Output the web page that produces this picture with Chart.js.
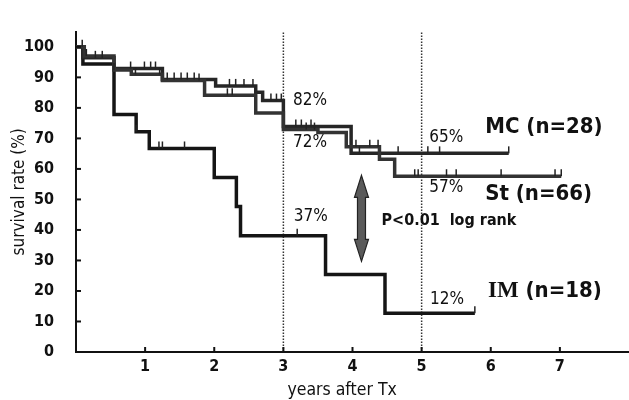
<!DOCTYPE html>
<html>
<head>
<meta charset="utf-8">
<script src="https://cdn.jsdelivr.net/npm/chart.js@4.4.0/dist/chart.umd.min.js"></script>
<style>
  html, body { margin: 0; padding: 0; background: #fff; }
  #wrap { width: 629px; height: 400px; }
</style>
</head>
<body>
<div id="wrap"><canvas id="kmChart"></canvas></div>
<script>
// Kaplan-Meier steps: time in years, survival in %
const mcTime = [0, 0.10, 0.55, 1.25, 2.02, 2.60, 2.70, 3.00, 3.98, 6.26];
const mcSurv = [100, 96.4, 92.9, 89.3, 87.2, 85.1, 82.4, 73.9, 65.1, 65.1];
const mcCensor = [0.09, 0.28, 0.38, 0.79, 0.99, 1.08, 1.15, 1.32, 1.42, 1.52, 1.61, 1.71,
  2.22, 2.31, 2.43, 2.56, 2.82, 2.90, 2.97, 3.18, 3.26, 3.40, 4.10, 4.66, 5.09, 5.26, 6.26];

const stTime = [0, 0.12, 0.55, 0.80, 1.25, 1.86, 2.60, 3.00, 3.50, 3.91, 4.39, 4.61, 7.02];
const stSurv = [100, 97.0, 92.4, 91.0, 89.0, 84.1, 78.3, 72.9, 71.9, 67.3, 63.2, 57.6, 57.6];
const stCensor = [0.15, 0.55, 0.86, 1.21, 1.78, 2.19, 2.26, 3.33, 3.45, 4.05, 4.25, 4.37,
  4.90, 4.95, 5.36, 5.50, 6.15, 6.93, 7.02];

const imTime = [0, 0.10, 0.55, 0.87, 1.06, 2.00, 2.32, 2.38, 3.61, 4.47, 5.77];
const imSurv = [100, 94.4, 77.8, 72.2, 66.7, 57.2, 47.7, 38.1, 25.4, 12.7, 12.7];
const imCensor = [0.87, 1.20, 1.25, 1.57, 3.20, 5.77];

const groupNames = ['MC', 'St', 'IM'];
const groupN = [28, 66, 18];
const rateLabels = ['82%', '72%', '37%', '65%', '57%', '12%'];
const pValueText = 'P<0.01  log rank';

const xTicks = [1, 2, 3, 4, 5, 6, 7];
const yTicks = [0, 10, 20, 30, 40, 50, 60, 70, 80, 90, 100];
const refYears = [3, 5];

const FONT = "'DejaVu Sans Condensed', 'DejaVu Sans', sans-serif";
const INK = '#111';

function toPoints(times, surv) {
  return times.map((t, i) => ({ x: t, y: surv[i] }));
}

function survAt(times, surv, t) {
  let v = surv[0];
  for (let i = 0; i < times.length; i++) {
    if (times[i] <= t) v = surv[i];
  }
  return v;
}

// where the texts sit, in data units (years, %)
const rateSpots = [[3.14, 82.4], [3.14, 68.7], [3.15, 44.4], [5.11, 70.2], [5.11, 53.8], [5.12, 17.1]];
const groupSpots = [[5.92, 73.8], [5.92, 51.7], [5.96, 19.9]];

const kmExtras = {
  id: 'kmExtras',
  afterDatasetsDraw(chart) {
    const ctx = chart.ctx;
    const xs = chart.scales.x;
    const ys = chart.scales.y;
    const px = v => xs.getPixelForValue(v);
    const py = v => ys.getPixelForValue(v);
    ctx.save();

    // censor marks
    ctx.strokeStyle = '#222';
    ctx.lineWidth = 1.5;
    [[mcTime, mcSurv, mcCensor], [stTime, stSurv, stCensor], [imTime, imSurv, imCensor]].forEach(g => {
      g[2].forEach(tc => {
        const x = px(tc);
        const y = py(survAt(g[0], g[1], tc));
        ctx.beginPath();
        ctx.moveTo(x, y);
        ctx.lineTo(x, y - 7);
        ctx.stroke();
      });
    });

    // inward tick marks
    ctx.strokeStyle = INK;
    ctx.lineWidth = 2;
    yTicks.forEach(v => {
      ctx.beginPath();
      ctx.moveTo(xs.left, py(v));
      ctx.lineTo(xs.left + 5, py(v));
      ctx.stroke();
    });
    xTicks.forEach(v => {
      ctx.beginPath();
      ctx.moveTo(px(v), ys.bottom);
      ctx.lineTo(px(v), ys.bottom - 5);
      ctx.stroke();
    });

    // survival % at 3 and 5 years
    ctx.fillStyle = INK;
    ctx.textAlign = 'left';
    ctx.textBaseline = 'middle';
    ctx.font = '17px ' + FONT;
    rateLabels.forEach((txt, i) => {
      ctx.fillText(txt, px(rateSpots[i][0]), py(rateSpots[i][1]));
    });

    // group names
    groupNames.forEach((name, i) => {
      let x = px(groupSpots[i][0]);
      const y = py(groupSpots[i][1]);
      const rest = ' (n=' + groupN[i] + ')';
      if (name === 'IM') {
        ctx.font = 'bold 23px "Liberation Serif", serif';
        ctx.fillText(name, x, y);
        x += ctx.measureText(name).width;
        ctx.font = 'bold 22px ' + FONT;
        ctx.fillText(rest, x, y);
      } else {
        ctx.font = 'bold 22px ' + FONT;
        ctx.fillText(name + rest, x, y);
      }
    });

    // p value
    ctx.font = 'bold 16px ' + FONT;
    ctx.fillText(pValueText, px(4.42), py(43));

    // double arrow
    const ax = px(4.13), top = py(57.9), bot = py(29.7);
    const head = 22, hw = 7, sw = 4;
    ctx.beginPath();
    ctx.moveTo(ax, top);
    ctx.lineTo(ax + hw, top + head);
    ctx.lineTo(ax + sw, top + head);
    ctx.lineTo(ax + sw, bot - head);
    ctx.lineTo(ax + hw, bot - head);
    ctx.lineTo(ax, bot);
    ctx.lineTo(ax - hw, bot - head);
    ctx.lineTo(ax - sw, bot - head);
    ctx.lineTo(ax - sw, top + head);
    ctx.lineTo(ax - hw, top + head);
    ctx.closePath();
    ctx.fillStyle = '#5a5a5a';
    ctx.fill();
    ctx.strokeStyle = '#222';
    ctx.lineWidth = 1.2;
    ctx.stroke();

    // x axis title
    ctx.fillStyle = INK;
    ctx.textAlign = 'center';
    ctx.font = '17.5px ' + FONT;
    ctx.fillText('years after Tx', px(3.85), ys.bottom + 38);

    ctx.restore();
  }
};

function curve(times, surv, color) {
  return {
    data: toPoints(times, surv),
    borderColor: color,
    borderWidth: 3.5,
    stepped: true,
    pointRadius: 0,
    fill: false
  };
}

const datasets = [
  curve(stTime, stSurv, '#333'),
  curve(mcTime, mcSurv, '#262626'),
  curve(imTime, imSurv, '#151515')
];
refYears.forEach(yr => {
  datasets.push({
    data: [{ x: yr, y: 0 }, { x: yr, y: 105 }],
    borderColor: '#333',
    borderWidth: 1.5,
    borderDash: [1.5, 1.5],
    pointRadius: 0
  });
});

new Chart(document.getElementById('kmChart'), {
  type: 'line',
  data: { datasets: datasets },
  options: {
    responsive: true,
    maintainAspectRatio: false,
    animation: false,
    layout: { padding: { top: 12, right: 0, bottom: 0, left: 0 } },
    plugins: { legend: { display: false }, tooltip: { enabled: false } },
    scales: {
      x: {
        type: 'linear',
        min: 0,
        max: 8,
        grid: { display: false, drawTicks: false },
        border: { display: true, color: INK, width: 2 },
        afterBuildTicks: s => { s.ticks = xTicks.map(v => ({ value: v })); },
        afterFit: s => { s.height = 48; },
        ticks: { color: INK, padding: 5, font: { family: FONT, size: 16, weight: 'bold' } }
      },
      y: {
        min: 0,
        max: 105,
        grid: { display: false, drawTicks: false },
        border: { display: true, color: INK, width: 2 },
        afterBuildTicks: s => { s.ticks = yTicks.map(v => ({ value: v })); },
        afterFit: s => { s.width = 76; },
        ticks: { color: INK, padding: 22, font: { family: FONT, size: 16, weight: 'bold' } },
        title: {
          display: true,
          text: 'survival rate (%)',
          color: INK,
          padding: { top: 9, bottom: 0 },
          font: { family: FONT, size: 17 }
        }
      }
    }
  },
  plugins: [kmExtras]
});
</script>
</body>
</html>
